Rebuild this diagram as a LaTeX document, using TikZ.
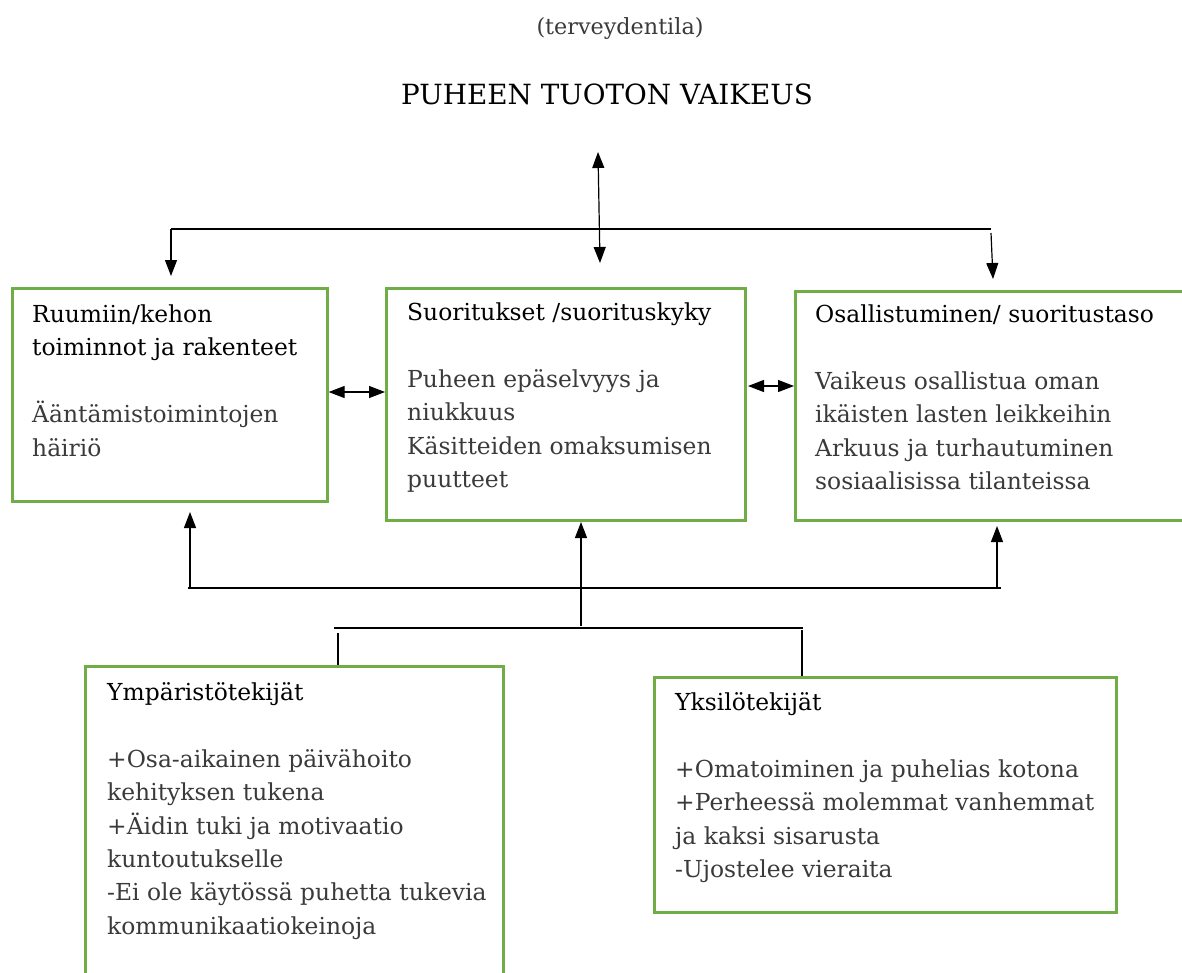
\documentclass[tikz,border=0pt]{standalone}
\usepackage{fontspec}
\setmainfont{DejaVu Serif}
\usetikzlibrary{arrows.meta}
\definecolor{boxgreen}{HTML}{70AD47}
\definecolor{bodygrey}{HTML}{3A3A3A}
\tikzset{
  box/.style={draw=boxgreen, line width=2.6pt, rectangle, inner sep=0pt, anchor=north west},
  txt/.style={anchor=north west, inner sep=0pt, align=left, text=bodygrey,
    font=\fontsize{23.4}{33.4}\selectfont},
  ln/.style={line width=1.4pt, draw=black},
  arr/.style={line width=1.2pt, draw=black, -{Triangle[length=16pt,width=12pt]}},
  darr/.style={line width=1.2pt, draw=black, {Triangle[length=16pt,width=12pt]}-{Triangle[length=16pt,width=12pt]}},
}
\begin{document}
\begin{tikzpicture}[x=1pt,y=-1pt]
\useasboundingbox (0,0) rectangle (1182,972);
\clip (0,0) rectangle (1182,972);

% titles
\node[anchor=base, inner sep=0pt, text=bodygrey, font=\fontsize{22.3}{26}\selectfont] (t1) at (620,34) {(terveydentila)};
\node[anchor=base, inner sep=0pt, text=black, font=\fontsize{27.8}{32}\selectfont] (t2) at (607,104) {PUHEEN TUOTON VAIKEUS};

% boxes
\node[box, minimum width=315pt, minimum height=213pt] (b1) at (11,287) {};
\node[box, minimum width=359pt, minimum height=232pt] (b2) at (385,287) {};
\node[box, minimum width=400pt, minimum height=229pt] (b3) at (794,290) {};
\node[box, minimum width=418pt, minimum height=330pt] (b4) at (84,665) {};
\node[box, minimum width=462pt, minimum height=235pt] (b5) at (653,676) {};

% texts (top = baseline - strut height)
\node[txt] (x1) at (32,299) {\strut\textcolor{black}{Ruumiin/kehon}\\\textcolor{black}{toiminnot ja rakenteet}\\[33.4pt]Ääntämistoimintojen\\häiriö};
\node[txt] (x2) at (407,297) {\strut\textcolor{black}{Suoritukset /suorituskyky}\\[33.4pt]Puheen epäselvyys ja\\niukkuus\\Käsitteiden omaksumisen\\puutteet};
\node[txt] (x3) at (815,299) {\strut\textcolor{black}{Osallistuminen/ suoritustaso}\\[33.4pt]Vaikeus osallistua oman\\ikäisten lasten leikkeihin\\Arkuus ja turhautuminen\\sosiaalisissa tilanteissa};
\node[txt] (x4) at (107,677) {\strut\textcolor{black}{Ympäristötekijät}\\[33.4pt]+Osa-aikainen päivähoito\\kehityksen tukena\\+Äidin tuki ja motivaatio\\kuntoutukselle\\-Ei ole käytössä puhetta tukevia\\kommunikaatiokeinoja};
\node[txt] (x5) at (675,687) {\strut\textcolor{black}{Yksilötekijät}\\[33.4pt]+Omatoiminen ja puhelias kotona\\+Perheessä molemmat vanhemmat\\ja kaksi sisarusta\\-Ujostelee vieraita};

% top connectors
\coordinate (tl) at (171,229);
\coordinate (tr) at (991,229);
\coordinate (tup) at (598,152);
\coordinate (tdn) at (600,263);
\coordinate (la) at (171,276);
\coordinate (rs) at (991,233);
\coordinate (ra) at (993,279);
\draw[ln] (tl) -- (tr);
\draw[darr] (tdn) -- (tup);
\draw[arr] (tl) -- (la);
\draw[arr] (rs) -- (ra);

% side double arrows
\coordinate (m1) at (0,392);
\draw[darr] (b1.east |- m1) -- (b2.west |- m1);
\coordinate (m2a) at (748,386);
\coordinate (m2b) at (794,386);
\draw[darr] (m2a) -- (m2b);

% bottom connectors
\coordinate (bl) at (188,588);
\coordinate (br) at (1001,588);
\draw[ln] (bl) -- (br);
\coordinate (u1s) at (190,589);
\coordinate (u1e) at (190,512);
\coordinate (u2s) at (581,626);
\coordinate (u2e) at (581,522);
\coordinate (u3s) at (997,588);
\coordinate (u3e) at (997,526);
\draw[arr] (u1s) -- (u1e);
\draw[arr] (u2s) -- (u2e);
\draw[arr] (u3s) -- (u3e);
\coordinate (ll) at (334,628);
\coordinate (lr) at (803,628);
\draw[line width=2.2pt] (ll) -- (lr);
\coordinate (v1) at (338,633);
\draw[line width=1.2pt] (v1) -- (b4.north -| v1);
\coordinate (v2) at (802,630);
\draw[line width=1.2pt] (v2) -- (b5.north -| v2);
\end{tikzpicture}
\end{document}
